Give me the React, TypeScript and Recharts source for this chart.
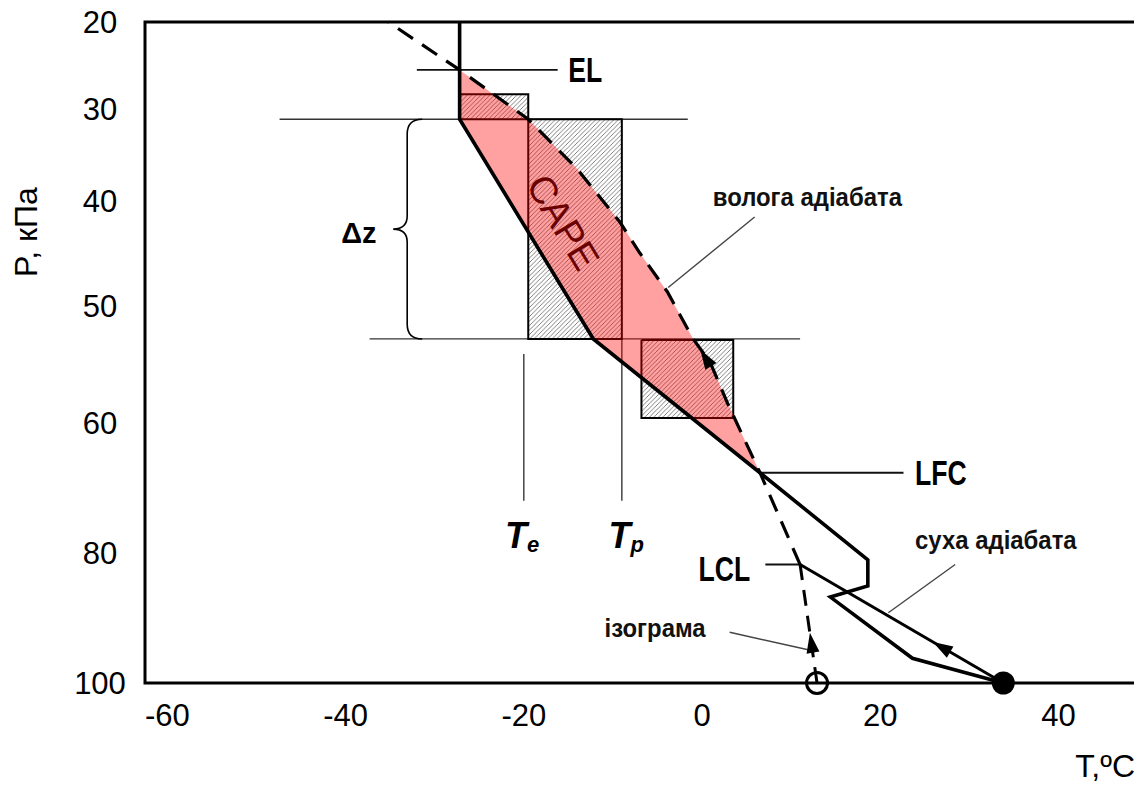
import React from "react";
import {
  ComposedChart,
  XAxis,
  YAxis,
  Scatter,
  ReferenceLine,
  ReferenceArea,
  Label,
} from "recharts";

const FONT = "'Liberation Sans', Arial, Helvetica, sans-serif";

// axes
const TEMP_TICKS = [-60, -40, -20, 0, 20, 40];
const TEMP_DOMAIN = [-62.5, 48.8];
const PRESSURE_TICKS = [20, 30, 40, 50, 60, 80, 100];
// labelled pressure levels sit at uneven heights on this diagram
const PRESSURE_STEPS = [0, 87, 179, 284, 400, 530, 660];

// soundings, [T °C, P kPa]
const environment = [
  [33.8, 100], [23.6, 96.2], [14.4, 86.8], [18.6, 85.1], [18.6, 81.1],
  [6.5, 67.7], [-12.2, 52.8], [-27.2, 31.1], [-27.2, 20],
];
const moistAdiabat = [
  [11.0, 81.8], [6.5, 67.7], [2.9, 58.4], [0.9, 54.8], [-1.0, 52.8],
  [-3.9, 48.6], [-7.0, 44.9], [-9.2, 42.0], [-14.0, 36.5], [-19.5, 31.1],
  [-27.2, 25.5], [-35.2, 20],
];
const dryAdiabat = [[33.8, 100], [11.0, 81.8]];
const isogram = [[12.9, 100], [11.0, 81.8]];
const surfaceTemp = [33.8, 100];
const surfaceDewPoint = [12.9, 100];

// positive area: environment from LFC up to EL, then back down the moist adiabat
const capeArea = [...environment.slice(5, 8), ...moistAdiabat.slice(2, 11).reverse()];

// parcel slabs: [T left, T right, P top, P bottom]
const slabs = [
  [-27.2, -19.5, 28.3, 31.1],
  [-19.5, -9.0, 31.1, 52.8],
  [-6.8, 3.5, 52.9, 59.6],
];

// thin guide segments
const layerLines = [
  [[-47.4, 31.1], [-1.6, 31.1]],
  [[-37.3, 52.8], [11.0, 52.8]],
];
const levelMarks = [
  [[-32.0, 25.5], [-16.2, 25.5]], // EL
  [[6.5, 67.7], [22.6, 67.7]],    // LFC
  [[7.1, 81.8], [11.0, 81.8]],    // LCL
];
const tempDrops = [
  [[-20.0, 54.1], [-20.0, 72]],
  [[-9.0, 52.8], [-9.0, 72]],
];
const leaders = [
  [[-3.8, 48.2], [5.9, 41.5]],
  [[20.9, 89.2], [28.4, 81.8]],
  [[3.1, 92.2], [11.9, 94.9]],
];
// arrowheads: [tail, tip]
const arrows = [
  [[29.0, 96.2], [25.9, 93.7]],
  [[12.4, 94.9], [12.1, 92.3]],
  [[1.1, 55.3], [-0.2, 53.7]],
];
const deltaZ = [[-31.4, 31.1], [-31.4, 52.8]];

// annotation anchors
const notes = {
  el: [-15.0, 25.5],
  lfc: [23.9, 67.7],
  lcl: [5.4, 82.5],
  moist: [1.2, 39.5],
  dry: [23.9, 78.0],
  iso: [0.4, 91.5],
  dz: [-38.5, 43.0],
  te: [-20.2, 79.2],
  tp: [-8.5, 79.2],
  cape: [-15.6, 42.0],
};

function toLevel(p: number) {
  const n = PRESSURE_TICKS.length;
  for (let i = 1; i < n; i++) {
    if (p <= PRESSURE_TICKS[i] || i === n - 1) {
      const p0 = PRESSURE_TICKS[i - 1];
      const p1 = PRESSURE_TICKS[i];
      const s0 = PRESSURE_STEPS[i - 1];
      const s1 = PRESSURE_STEPS[i];
      return s0 + ((s1 - s0) * (p - p0)) / (p1 - p0);
    }
  }
  return 0;
}

const at = ([t, p]: number[]) => ({ t, lv: toLevel(p) });
const seg = (s: number[][]) => s.map(([t, p]) => ({ x: t, y: toLevel(p) }));

const hidden = () => <g />;

function path(key: string, pts: number[][], line: any) {
  return (
    <Scatter
      key={key}
      data={pts.map(at)}
      line={line}
      lineJointType="linear"
      shape={hidden}
      isAnimationActive={false}
    />
  );
}

function note(key: string, pos: number[], draw: (x: number, y: number) => React.ReactElement) {
  return (
    <Scatter
      key={key}
      data={[at(pos)]}
      shape={(p: any) => draw(p.cx, p.cy)}
      isAnimationActive={false}
    />
  );
}

function arrowHead(props: any) {
  const [a, b] = props.points;
  const dx = b.x - a.x;
  const dy = b.y - a.y;
  const d = Math.hypot(dx, dy) || 1;
  const ux = dx / d;
  const uy = dy / d;
  const len = 20;
  const half = 6.5;
  const bx = b.x - ux * len;
  const by = b.y - uy * len;
  return (
    <polygon
      points={`${b.x},${b.y} ${bx - uy * half},${by + ux * half} ${bx + uy * half},${by - ux * half}`}
      fill="#000"
    />
  );
}

function brace(props: any) {
  const [top, bottom] = props.points;
  const xe = top.x;
  const xs = xe - 15;
  const xt = xe - 29;
  const mid = (top.y + bottom.y) / 2;
  const d = [
    `M${xe},${top.y}`,
    `Q${xs},${top.y} ${xs},${top.y + 15}`,
    `L${xs},${mid - 13}`,
    `Q${xs},${mid} ${xt},${mid}`,
    `Q${xs},${mid} ${xs},${mid + 13}`,
    `L${xs},${bottom.y - 15}`,
    `Q${xs},${bottom.y} ${xe},${bottom.y}`,
  ].join(" ");
  return <path d={d} fill="none" stroke="#000" strokeWidth={1.6} />;
}

const boldNarrow = (text: string, anchor: "start" | "end") => (x: number, y: number) => (
  <text
    transform={`translate(${x},${y}) scale(0.76,1)`}
    textAnchor={anchor}
    dominantBaseline="central"
    fontFamily={FONT}
    fontWeight="bold"
    fontSize={35}
    fill="#000"
  >
    {text}
  </text>
);

const caption = (text: string, anchor: "start" | "end") => (x: number, y: number) => (
  <text
    transform={`translate(${x},${y}) scale(0.92,1)`}
    textAnchor={anchor}
    dominantBaseline="central"
    fontFamily={FONT}
    fontWeight="bold"
    fontSize={26}
    fill="#111"
  >
    {text}
  </text>
);

const tempLabel = (sub: string) => (x: number, y: number) => (
  <text
    x={x}
    y={y}
    textAnchor="middle"
    fontFamily={FONT}
    fontWeight="bold"
    fontStyle="italic"
    fontSize={36}
    fill="#000"
  >
    T<tspan fontSize={22} dy={4}>{sub}</tspan>
  </text>
);

export default function App() {
  return (
    // the chart covers the whole page, so pull it over the body margin
    <div style={{ margin: "-8px 0 0 -8px" }}>
      <svg width="0" height="0" style={{ position: "absolute" }}>
        <defs>
          <pattern id="slab-hatch" patternUnits="userSpaceOnUse" width="4.5" height="4.5">
            <rect width="4.5" height="4.5" fill="#fff" />
            <path d="M-1,1 l2,-2 M0,4.5 l4.5,-4.5 M3.5,5.5 l2,-2" stroke="#555" strokeWidth="0.75" />
          </pattern>
        </defs>
      </svg>
      <ComposedChart width={1142} height={785} margin={{ top: 22, right: 5, bottom: 0, left: 0 }}>
        <XAxis
          type="number"
          dataKey="t"
          domain={TEMP_DOMAIN}
          ticks={TEMP_TICKS}
          interval={0}
          height={102}
          axisLine={false}
          tickLine={false}
          tickSize={0}
          tickMargin={21}
          tick={{ fontSize: 31, fill: "#000", fontFamily: FONT }}
        >
          <Label
            content={() => (
              <text x={1135} y={777} textAnchor="end" fontFamily={FONT} fontSize={32} fill="#000">
                T,ºC
              </text>
            )}
          />
        </XAxis>
        <YAxis
          type="number"
          dataKey="lv"
          domain={[0, 660]}
          reversed
          ticks={PRESSURE_STEPS}
          interval={0}
          tickFormatter={(v: number) => String(PRESSURE_TICKS[PRESSURE_STEPS.indexOf(v)] ?? "")}
          width={145}
          axisLine={false}
          tickLine={false}
          tickSize={0}
          tickMargin={45}
          tick={{ fontSize: 31, fill: "#000", fontFamily: FONT, textAnchor: "middle" }}
        >
          <Label
            content={() => (
              <text
                transform="translate(26,232) rotate(-90)"
                textAnchor="middle"
                dominantBaseline="central"
                fontFamily={FONT}
                fontSize={32}
                fill="#000"
              >
                P, кПа
              </text>
            )}
          />
        </YAxis>

        {layerLines.map((s, i) => (
          <ReferenceLine key={`layer-${i}`} segment={seg(s)} stroke="#333" strokeWidth={1.3} />
        ))}
        {levelMarks.map((s, i) => (
          <ReferenceLine key={`lvl-${i}`} segment={seg(s)} stroke="#111" strokeWidth={1.8} />
        ))}
        {tempDrops.map((s, i) => (
          <ReferenceLine key={`drop-${i}`} segment={seg(s)} stroke="#444" strokeWidth={1.5} />
        ))}
        {leaders.map((s, i) => (
          <ReferenceLine key={`lead-${i}`} segment={seg(s)} stroke="#444" strokeWidth={1.4} />
        ))}

        {slabs.map(([t1, t2, p1, p2], i) =>
          path(`slab-${i}`, [[t1, p1], [t2, p1], [t2, p2], [t1, p2], [t1, p1]], {
            fill: "url(#slab-hatch)",
            stroke: "#000",
            strokeWidth: 2,
          })
        )}

        {path("cape", capeArea, { fill: "rgba(255,0,0,0.37)", stroke: "none" })}

        {path("dry", dryAdiabat, { stroke: "#000", strokeWidth: 3, fill: "none" })}
        {path("iso", isogram, { stroke: "#000", strokeWidth: 3, fill: "none", strokeDasharray: "16 10" })}
        {path("moist", moistAdiabat, { stroke: "#000", strokeWidth: 3.2, fill: "none", strokeDasharray: "18 11" })}
        {path("env", environment, { stroke: "#000", strokeWidth: 3.6, fill: "none", strokeLinejoin: "miter" })}

        {arrows.map((a, i) => (
          <Scatter key={`arrow-${i}`} data={a.map(at)} line={arrowHead} shape={hidden} isAnimationActive={false} />
        ))}
        <Scatter data={deltaZ.map(at)} line={brace} shape={hidden} isAnimationActive={false} />

        {note("surface-t", surfaceTemp, (x, y) => <circle cx={x} cy={y} r={11.5} fill="#000" />)}
        {note("surface-td", surfaceDewPoint, (x, y) => (
          <circle cx={x} cy={y} r={10.5} fill="none" stroke="#000" strokeWidth={3} />
        ))}

        {note("el", notes.el, boldNarrow("EL", "start"))}
        {note("lfc", notes.lfc, boldNarrow("LFC", "start"))}
        {note("lcl", notes.lcl, boldNarrow("LCL", "end"))}
        {note("moist-label", notes.moist, caption("волога адіабата", "start"))}
        {note("dry-label", notes.dry, caption("суха адіабата", "start"))}
        {note("iso-label", notes.iso, caption("ізограма", "end"))}
        {note("dz", notes.dz, (x, y) => (
          <text x={x} y={y} textAnchor="middle" dominantBaseline="central" fontFamily={FONT} fontWeight="bold" fontSize={29} fill="#000">
            Δz
          </text>
        ))}
        {note("te", notes.te, tempLabel("e"))}
        {note("tp", notes.tp, tempLabel("p"))}
        {note("cape-label", notes.cape, (x, y) => (
          <text
            transform={`rotate(59 ${x} ${y})`}
            x={x}
            y={y}
            textAnchor="middle"
            dominantBaseline="central"
            fontFamily={FONT}
            fontSize={38}
            fill="#6a0000"
          >
            CAPE
          </text>
        ))}

        <ReferenceArea x1={TEMP_DOMAIN[0]} x2={TEMP_DOMAIN[1]} y1={0} y2={660} fill="none" stroke="#000" strokeWidth={3} />
      </ComposedChart>
    </div>
  );
}
